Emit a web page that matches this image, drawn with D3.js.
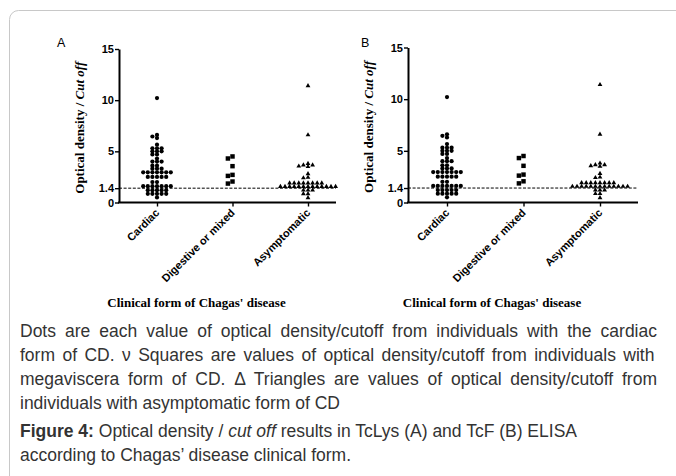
<!DOCTYPE html>
<html>
<head>
<meta charset="utf-8">
<script src="https://cdn.jsdelivr.net/npm/d3@7/dist/d3.min.js"></script>
<style>
body { margin: 0; background: #fff; }
.tick text { font-family: "Liberation Sans", Arial, sans-serif; font-weight: bold; font-size: 11px; fill: #000; }
.caption { font-family: "Liberation Sans", Arial, sans-serif; font-size: 17.5px; fill: #333; }
.serif { font-family: "Liberation Serif", "Times New Roman", serif; font-weight: bold; fill: #000; }
</style>
</head>
<body>
<svg id="fig" width="676" height="476"></svg>
<script>
// values (optical density / cut off)
var categories = ["Cardiac", "Digestive or mixed", "Asymptomatic"];
var cardiac = [10.2, 6.6, 6.45, 6.3, 5.65, 5.3, 5.3, 5.3, 5.0, 5.0, 5.0, 4.7, 4.7, 4.3,
	4.0, 4.0, 4.0, 3.6, 3.6, 3.3, 3.3, 3.3, 2.95, 2.95, 2.95, 2.95, 2.95, 2.95, 2.95,
	2.5, 2.5, 2.5, 2.5, 2.5, 2.0, 2.0, 1.6, 1.6, 1.6, 1.6, 1.6, 1.6, 1.6,
	1.2, 1.2, 1.2, 1.2, 1.2, 0.85, 0.85, 0.85, 0.85, 0.85, 0.5];
var digestive = [4.5, 4.3, 3.55, 2.7, 2.6, 2.05, 1.85];
var asymptomatic = [11.4, 6.6, 3.8, 3.65, 3.5, 3.55, 3.65, 2.8, 2.45, 2.4,
	1.9, 1.9, 1.9, 1.9, 1.9, 1.9, 1.9, 1.9,
	1.55, 1.55, 1.55, 1.55, 1.55, 1.55, 1.55, 1.55, 1.55, 1.55, 1.55, 1.55, 1.55,
	1.2, 1.2, 1.2, 0.85, 0.85, 0.45];
var yTicks = [0, 1.4, 5, 10, 15];
var cutoff = 1.4;
var panelNames = ["A", "B"];

var captionLines = [
	"Dots are each value of optical density/cutoff from individuals with the cardiac",
	"form of CD.  \u03bd Squares are values of optical density/cutoff from individuals with",
	"megaviscera form of CD. \u0394 Triangles are values of optical density/cutoff from",
	"individuals with asymptomatic form of CD"
];

var svg = d3.select('#fig');

// page frame
svg.append('rect')
	.attr('x', 9.5).attr('y', 10.5)
	.attr('width', 720).attr('height', 520)
	.attr('rx', 9)
	.attr('fill', 'none')
	.attr('stroke', '#c8c8c8');

var panels = [
	{name: panelNames[0], labelX: 57, left: 119, right: 336, top: 49, bottom: 202.5, cats: [157, 308], series: [cardiac, digestive, asymptomatic]},
	{name: panelNames[1], labelX: 361, left: 408, right: 638, top: 47.5, bottom: 202.5, cats: [447, 600], series: [cardiac, digestive, asymptomatic]}
];

var swarm = function(values, cx, y, step, minDist){
	var placed = [];
	values.slice().sort(function(a, b){ return b - a; }).forEach(function(v){
		var py = y(v), k = 0, px;
		while(true){
			var off = k === 0 ? 0 : (k % 2 ? -Math.ceil(k / 2) : k / 2) * step;
			px = cx + off;
			var ok = placed.every(function(p){ return Math.hypot(p.x - px, p.y - py) >= minDist; });
			if(ok) break;
			k++;
		}
		placed.push({x: px, y: py, v: v});
	});
	return placed;
};

var symbols = [d3.symbolCircle, d3.symbolSquare, d3.symbolTriangle];
var symSize = [14, 20, 10];

panels.forEach(function(p){
	var g = svg.append('g');

	var y = d3.scaleLinear().domain([0, 15]).range([p.bottom, p.top]);
	var x = d3.scalePoint().domain(categories).range(p.cats);

	g.append('text')
		.attr('x', p.labelX).attr('y', 47)
		.style('font-family', '"Liberation Sans", Arial, sans-serif')
		.style('font-size', '12.5px')
		.text(p.name);

	// cut off line
	g.append('line')
		.attr('x1', p.left).attr('x2', p.right)
		.attr('y1', y(cutoff)).attr('y2', y(cutoff))
		.attr('stroke', '#000')
		.attr('stroke-width', 1)
		.attr('stroke-dasharray', '3,1.6');

	var yAxis = d3.axisLeft(y).tickValues(yTicks).tickSize(4).tickSizeOuter(0).tickPadding(1)
		.tickFormat(function(d){ return d; });
	var ya = g.append('g')
		.attr('transform', 'translate(' + p.left + ',0)')
		.call(yAxis);
	ya.select('.domain').attr('stroke-width', 2);
	ya.selectAll('.tick line').attr('stroke-width', 1.4);

	var xAxis = d3.axisBottom(x).tickSize(4).tickSizeOuter(0).tickFormat('');
	var xa = g.append('g')
		.attr('transform', 'translate(0,' + y(0) + ')')
		.call(xAxis);
	xa.select('.domain').attr('d', 'M' + (p.left - 1) + ',0H' + p.right).attr('stroke-width', 2);
	xa.selectAll('.tick line').attr('stroke-width', 1.4);

	g.selectAll('.catLabel').data(categories)
		.enter().append('text')
		.attr('transform', function(d){ return 'translate(' + (x(d) + 3) + ',' + (y(0) + 11) + ') rotate(-45)'; })
		.attr('text-anchor', 'end')
		.style('font-family', '"Liberation Sans", Arial, sans-serif')
		.style('font-weight', 'bold')
		.style('font-size', '11px')
		.text(function(d){ return d; });

	// y title
	var yt = g.append('text')
		.attr('class', 'serif')
		.attr('transform', 'translate(' + (p.left - 35) + ',' + ((p.top + p.bottom) / 2 + 2) + ') rotate(-90)')
		.attr('text-anchor', 'middle')
		.style('font-size', '13px');
	yt.append('tspan').text('Optical density / ');
	yt.append('tspan').style('font-style', 'italic').text('Cut off');

	g.append('text')
		.attr('class', 'serif')
		.attr('x', (p.left + p.right) / 2 - 31).attr('y', 307)
		.attr('text-anchor', 'middle')
		.style('font-size', '13px')
		.text("Clinical form of Chagas' disease");

	p.series.forEach(function(vals, i){
		var pts = swarm(vals, x(categories[i]), y, 4.6, 3.0);
		g.selectAll('.m' + i).data(pts)
			.enter().append('path')
			.attr('transform', function(d){ return 'translate(' + d.x + ',' + d.y + ')'; })
			.attr('d', d3.symbol().type(symbols[i]).size(symSize[i]))
			.attr('fill', '#000');
	});
});

// caption, first three lines justified by word spacing
var cap = svg.append('g');
captionLines.forEach(function(line, i){
	var t = cap.append('text')
		.attr('class', 'caption')
		.attr('x', 20).attr('y', 337 + i * 24)
		.text(line);
	if(i < 3){
		var natural = t.node().getComputedTextLength();
		var gaps = line.split(' ').length - 1;
		t.attr('word-spacing', Math.max(0, (637 - natural) / gaps));
	}
});

var fig = cap.append('text').attr('class', 'caption').attr('x', 20).attr('y', 437);
fig.append('tspan').style('font-weight', 'bold').text('Figure 4:');
fig.append('tspan').text(' Optical density / ');
fig.append('tspan').style('font-style', 'italic').text('cut off');
fig.append('tspan').text(' results in TcLys (A) and TcF (B) ELISA');
cap.append('text').attr('class', 'caption').attr('x', 20).attr('y', 461)
	.text("according to Chagas\u2019 disease clinical form.");
</script>
</body>
</html>
